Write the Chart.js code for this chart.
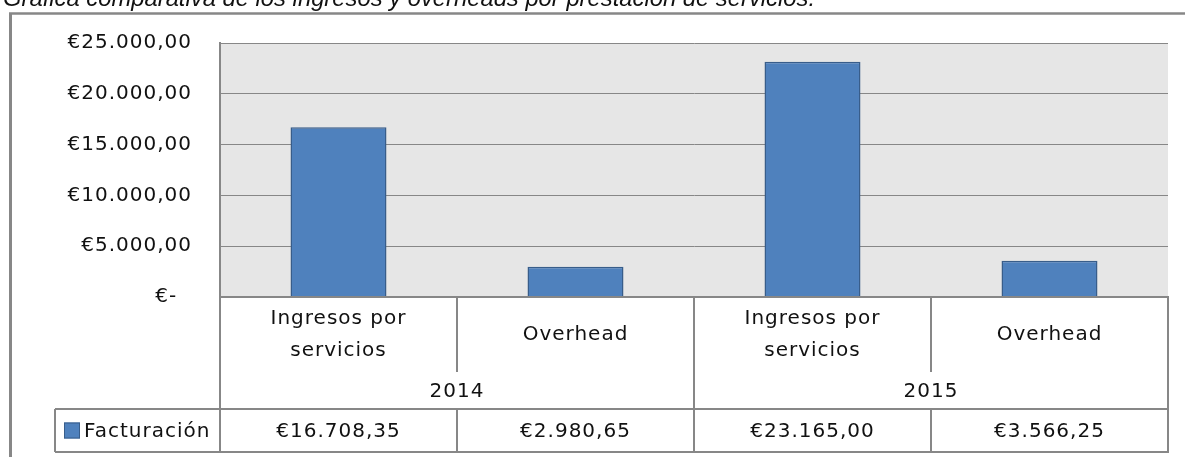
<!DOCTYPE html>
<html lang="es">
<head>
<meta charset="utf-8">
<title>Gráfica comparativa de los ingresos y overheads</title>
<script src="https://cdn.jsdelivr.net/npm/chart.js@4.4.1/dist/chart.umd.min.js"></script>
<style>
  html, body { margin: 0; padding: 0; background: #fff; }
  #wrap { width: 1185px; height: 457px; position: relative; }
</style>
</head>
<body>
<div id="wrap"><canvas id="grafica" width="1185" height="457"></canvas></div>
<script>
// Datos de la gráfica
const categorias = [['Ingresos por', 'servicios'], ['Overhead'], ['Ingresos por', 'servicios'], ['Overhead']];
const anios = ['2014', '2015'];
const facturacion = [16708.35, 2980.65, 23165.00, 3566.25];
const serieNombre = 'Facturación';
const titulo = 'Gráfica comparativa de los ingresos y overheads por prestación de servicios.';

const FUENTE = '"DejaVu Sans", Verdana, sans-serif';
const GRIS = '#878787';
const TEXTO = '#111';

// Formato contable: €16.708,35
const formatoEuro = (v) => {
    if (v === 0) return '€-  ';
    const partes = v.toFixed(2).split('.');
    const entero = partes[0].replace(/\B(?=(\d{3})+(?!\d))/g, '.');
    return '€' + entero + ',' + partes[1];
};

// Fondo gris del área de trazado
const fondoPlugin = {
    id: 'fondo',
    beforeDraw(chart) {
        const { ctx, chartArea: a } = chart;
        ctx.letterSpacing = '1px';
        ctx.save();
        ctx.fillStyle = '#e6e6e6';
        ctx.fillRect(a.left, a.top, a.right - a.left, a.bottom - a.top);
        ctx.restore();
    }
};

// Tabla de datos, etiquetas de categoría, marco y título
const tablaPlugin = {
    id: 'tabla',
    afterDraw(chart) {
        const { ctx, chartArea: a } = chart;
        const x = chart.scales.x;
        const n = facturacion.length;

        const bordes = [];
        for (let i = 0; i <= n; i++) {
            if (i === 0) bordes.push(a.left);
            else if (i === n) bordes.push(a.right);
            else bordes.push((x.getPixelForValue(i - 1) + x.getPixelForValue(i)) / 2);
        }

        const top = a.bottom;
        const finCat = top + 75;
        const finAnio = top + 112;
        const finDatos = top + 155;
        const leyendaIzq = 55;

        ctx.save();
        ctx.letterSpacing = '1px';
        ctx.strokeStyle = GRIS;
        ctx.lineWidth = 2;

        const linea = (x1, y1, x2, y2) => {
            ctx.beginPath();
            ctx.moveTo(x1, y1);
            ctx.lineTo(x2, y2);
            ctx.stroke();
        };

        // líneas horizontales
        linea(a.left, top, a.right + 1, top);
        linea(leyendaIzq, finAnio, a.right + 1, finAnio);
        linea(leyendaIzq, finDatos, a.right + 1, finDatos);
        linea(leyendaIzq, finAnio, leyendaIzq, finDatos);

        // líneas verticales
        bordes.forEach((bx, i) => {
            if (i % 2 === 0) {
                linea(bx, top, bx, finDatos);
            } else {
                linea(bx, top, bx, finCat);
                linea(bx, finAnio, bx, finDatos);
            }
        });

        ctx.fillStyle = TEXTO;
        ctx.font = '20px ' + FUENTE;
        ctx.textAlign = 'center';
        ctx.textBaseline = 'middle';

        // etiquetas de categoría
        categorias.forEach((lineas, i) => {
            const cx = x.getPixelForValue(i);
            const centro = top + 38;
            const alto = 32;
            lineas.forEach((t, j) => {
                const y = centro + (j - (lineas.length - 1) / 2) * alto;
                ctx.fillText(t, cx, y);
            });
        });

        // años
        anios.forEach((t, g) => {
            const cx = (bordes[g * 2] + bordes[g * 2 + 2]) / 2;
            ctx.fillText(t, cx, (finCat + finAnio) / 2 + 1);
        });

        // valores
        facturacion.forEach((v, i) => {
            ctx.fillText(formatoEuro(v), x.getPixelForValue(i), (finAnio + finDatos) / 2 + 1);
        });

        // leyenda en la tabla
        const yl = (finAnio + finDatos) / 2;
        ctx.fillStyle = '#4f81bd';
        ctx.fillRect(64, yl - 8, 16, 16);
        ctx.strokeStyle = '#385d8a';
        ctx.lineWidth = 1;
        ctx.strokeRect(64.5, yl - 7.5, 15, 15);
        ctx.fillStyle = TEXTO;
        ctx.textAlign = 'left';
        ctx.fillText(serieNombre, 84, yl + 1);

        // marco del gráfico
        ctx.strokeStyle = GRIS;
        ctx.lineWidth = 3;
        linea(10.5, 13, 10.5, 457);
        ctx.lineWidth = 2.5;
        linea(9, 13.5, 1185, 13.5);

        // título (recortado arriba)
        ctx.letterSpacing = '0px';
        ctx.fillStyle = TEXTO;
        ctx.font = 'italic 24px "Liberation Sans", Arial, sans-serif';
        ctx.textAlign = 'left';
        ctx.textBaseline = 'alphabetic';
        ctx.fillText(titulo, 3, 6, 812);
        ctx.restore();
    }
};

new Chart(document.getElementById('grafica'), {
    type: 'bar',
    data: {
        labels: categorias,
        datasets: [{
            label: serieNombre,
            data: facturacion,
            backgroundColor: '#4f81bd',
            borderColor: '#385d8a',
            borderWidth: 1.5,
            barPercentage: 0.405,
            categoryPercentage: 1
        }]
    },
    options: {
        responsive: false,
        animation: false,
        devicePixelRatio: 1,
        layout: { padding: { left: 0, top: 43, right: 17, bottom: 160 } },
        plugins: {
            legend: { display: false },
            tooltip: { enabled: false }
        },
        scales: {
            x: { display: false },
            y: {
                min: 0,
                max: 25000,
                afterFit: (scale) => { scale.width = 220; },
                ticks: {
                    stepSize: 5000,
                    padding: 28,
                    color: TEXTO,
                    font: { family: FUENTE, size: 20 },
                    callback: (v) => formatoEuro(v)
                },
                grid: { color: GRIS, lineWidth: 1, drawTicks: false },
                border: { display: true, color: GRIS, width: 2 }
            }
        }
    },
    plugins: [fondoPlugin, tablaPlugin]
});
</script>
</body>
</html>
